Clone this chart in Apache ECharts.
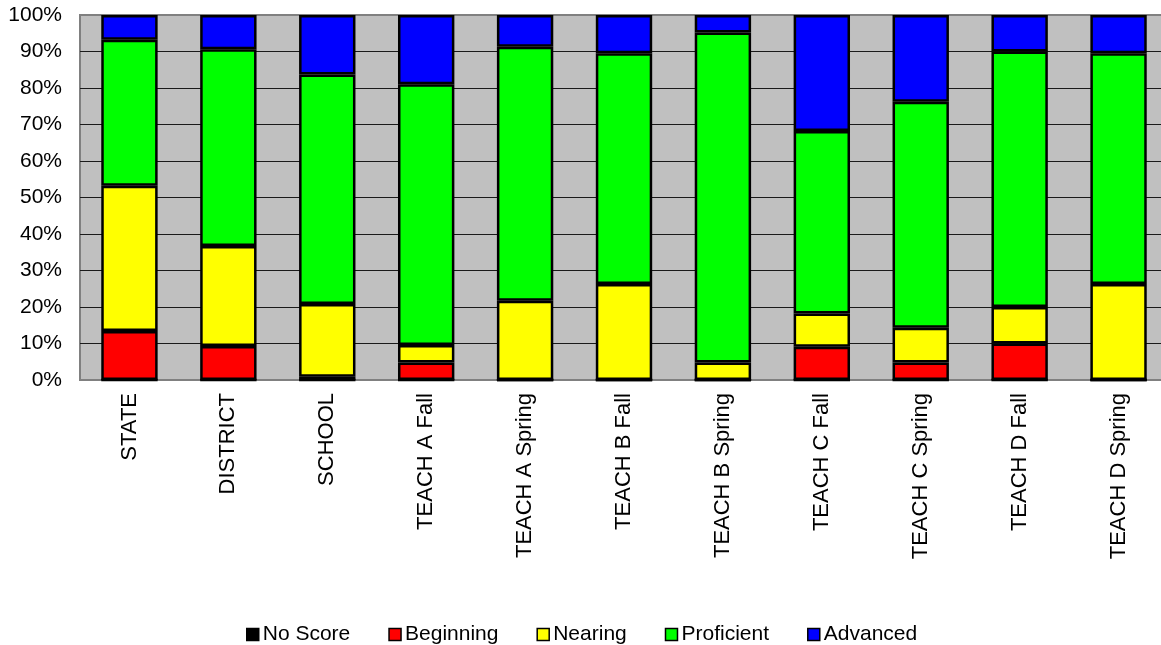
<!DOCTYPE html>
<html>
<head>
<meta charset="utf-8">
<title>Performance Levels</title>
<script src="https://cdn.jsdelivr.net/npm/echarts@6/dist/echarts.min.js"></script>
<style>
  html, body { margin: 0; padding: 0; background: #ffffff; overflow: hidden; }
  /* plot area runs slightly past the right edge of the window */
  #chart { width: 1169px; height: 645px; }
</style>
</head>
<body>
<div id="chart"></div>
<script>
// Groups shown along the x axis
const categories = ['STATE', 'DISTRICT', 'SCHOOL', 'TEACH A Fall', 'TEACH A Spring',
  'TEACH B Fall', 'TEACH B Spring', 'TEACH C Fall', 'TEACH C Spring', 'TEACH D Fall', 'TEACH D Spring'];

// Percent of students at each performance level
const noScore    = [0, 0, 0, 0, 0, 0, 0, 0, 0, 0, 0];
const beginning  = [13.4, 9.3, 0.9, 4.8, 0, 0, 0, 9.1, 4.8, 10.0, 0];
const nearing    = [39.8, 27.4, 19.9, 4.8, 21.7, 26.3, 4.8, 9.1, 9.5, 10.0, 26.3];
const proficient = [40.0, 53.9, 62.9, 71.4, 69.6, 63.2, 90.4, 50.0, 61.9, 70.0, 63.2];
const advanced   = [6.8, 9.4, 16.3, 19.0, 8.7, 10.5, 4.8, 31.8, 23.8, 10.0, 10.5];

const levelNames = ['No Score', 'Beginning', 'Nearing', 'Proficient', 'Advanced'];
const levelColors = ['#000000', '#FF0000', '#FFFF00', '#00FF00', '#0000FF'];
const levelData = [noScore, beginning, nearing, proficient, advanced];

const FONT = '"Liberation Sans", Arial, sans-serif';

const chart = echarts.init(document.getElementById('chart'), null, { renderer: 'canvas' });

chart.setOption({
  animation: false,
  backgroundColor: '#ffffff',
  grid: {
    show: true,
    left: 80,
    top: 15,
    width: 1088,
    height: 365,
    backgroundColor: '#C0C0C0',
    borderColor: '#808080',
    borderWidth: 2
  },
  legend: {
    top: 619,
    left: 241,
    itemWidth: 12,
    itemHeight: 12,
    itemGap: 38,
    icon: 'rect',
    textStyle: { fontFamily: FONT, fontSize: 21, color: '#000', padding: [0, 0, 0, -1] },
    data: levelNames.map((n, i) => ({
      name: n,
      itemStyle: { color: levelColors[i], borderColor: '#000', borderWidth: 1.5 }
    }))
  },
  xAxis: {
    type: 'category',
    data: categories,
    axisLine: { show: true, lineStyle: { color: '#808080', width: 2 } },
    axisTick: { show: false },
    axisLabel: {
      rotate: 90,
      margin: 13,
      interval: 0,
      fontFamily: FONT,
      fontSize: 22,
      color: '#000'
    }
  },
  yAxis: {
    type: 'value',
    min: 0,
    max: 100,
    interval: 10,
    axisLine: { show: false },
    axisTick: { show: false },
    axisLabel: {
      formatter: '{value}%',
      margin: 18,
      fontFamily: FONT,
      fontSize: 21,
      color: '#000'
    },
    splitLine: {
      show: true,
      showMinLine: false,
      showMaxLine: false,
      lineStyle: { color: '#1a1a1a', width: 1 }
    }
  },
  series: levelNames.map((n, i) => ({
    name: n,
    type: 'bar',
    stack: 'levels',
    barWidth: '57%',
    data: levelData[i],
    itemStyle: { color: levelColors[i], borderColor: '#000', borderWidth: 2.5 }
  }))
});
</script>
</body>
</html>
